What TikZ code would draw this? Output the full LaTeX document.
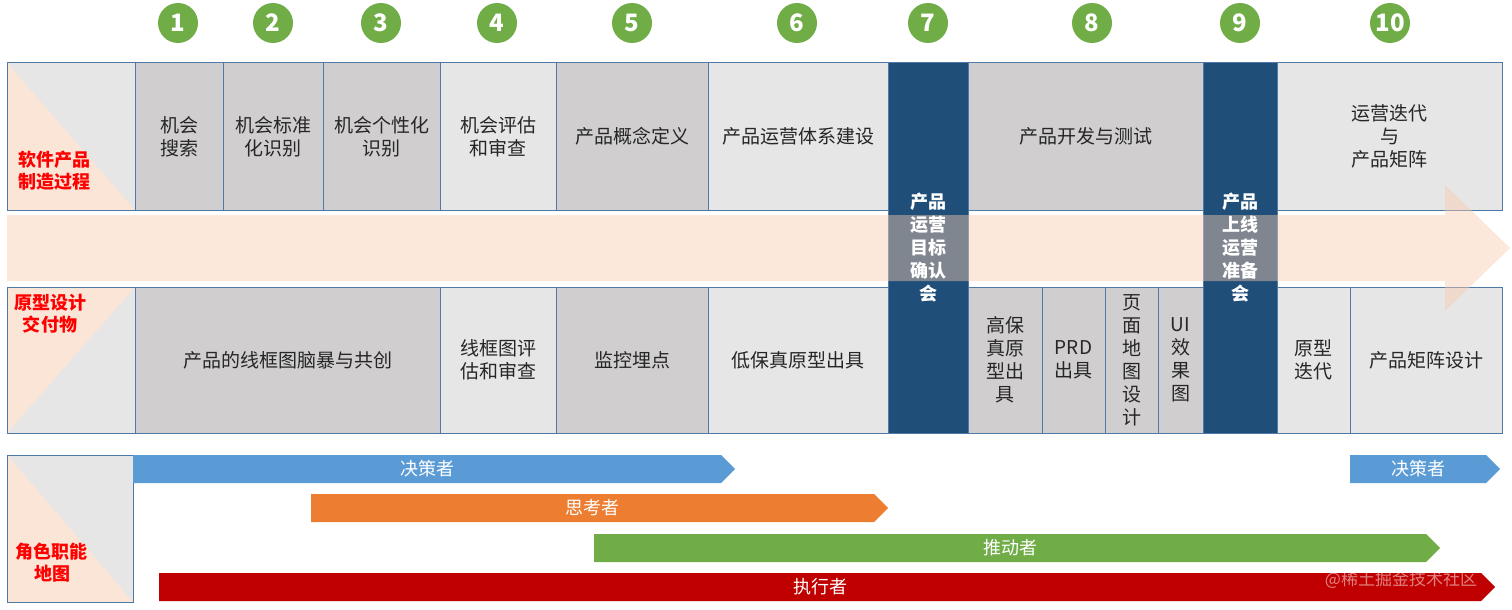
\documentclass[tikz,border=0pt]{standalone}
\usepackage{fontspec}
\setmainfont{Noto Sans CJK SC}
\usepackage{tikz}
\usetikzlibrary{positioning, shapes.symbols}
\tikzset{every node/.style={font=\fontsize{19}{23}\selectfont}}
\definecolor{cellgray}{HTML}{D0CECE}
\definecolor{celllight}{HTML}{E7E6E6}
\definecolor{frameblue}{HTML}{4F7AA8}
\definecolor{navy}{HTML}{1F4E79}
\definecolor{peach}{HTML}{F8CBAD}
\definecolor{peachsoft}{HTML}{FBE5D6}
\definecolor{stepgreen}{HTML}{70AD47}
\definecolor{roleblue}{HTML}{5B9BD5}
\definecolor{roleorange}{HTML}{ED7D31}
\definecolor{rolegreen}{HTML}{70AD47}
\definecolor{rolered}{HTML}{C00000}
\definecolor{labelred}{HTML}{FF0000}

\begin{document}
\begin{tikzpicture}[x=1pt, y=-1pt,
    cellbox/.style={draw=frameblue, line width=1pt, align=center, inner sep=0pt, text=black!85},
    stepdot/.style={circle, fill=stepgreen, minimum size=40pt, inner sep=0pt, text=white, font=\fontsize{24}{24}\selectfont\bfseries},
    gatebox/.style={fill=navy, draw=frameblue, line width=1pt, inner sep=0pt},
    gatetext/.style={text=white, align=center, font=\fontsize{18}{23}\selectfont\bfseries},
    sidecell/.style={draw=frameblue, line width=1pt, fill=celllight, inner sep=0pt},
    sidelabel/.style={text=labelred, align=center, font=\fontsize{18}{22}\selectfont\bfseries},
    rolebar/.style={signal, signal to=east, signal pointer angle=90, minimum height=28pt, inner sep=0pt, text=white, font=\fontsize{18}{18}\selectfont}]
  \useasboundingbox (0,0) rectangle (1512,610);

  % step numbers
  \foreach \x [count=\n] in {178,273,381,497,632,797,928,1092,1240,1390}
    \node[stepdot] (n\n) at (\x,23) {\n};

  % manufacturing steps (upper row)
  \foreach \xa/\xb/\fc/\txt [count=\i] in {
      135/223/cellgray/{机会\\搜索},
      223/323/cellgray/{机会标准\\化识别},
      323/440/cellgray/{机会个性化\\识别},
      440/556/celllight/{机会评估\\和审查},
      556/708/cellgray/{产品概念定义},
      708/888/celllight/{产品运营体系建设},
      968/1203/cellgray/{产品开发与测试},
      1277/1502/celllight/{运营迭代\\与\\产品矩阵}}
    \node[cellbox, fill=\fc, minimum width={\xb-\xa}, minimum height=147] (up\i) at ({(\xa+\xb)/2},136.5) {\txt};

  % deliverables (lower row)
  \foreach \xa/\xb/\fc/\txt [count=\i] in {
      135/440/cellgray/{产品的线框图脑暴与共创},
      440/556/celllight/{线框图评\\估和审查},
      556/708/cellgray/{监控埋点},
      708/888/celllight/{低保真原型出具},
      968/1042/cellgray/{高保\\真原\\型出\\具},
      1042/1105/cellgray/{PRD\\出具},
      1105/1158/cellgray/{页\\面\\地\\图\\设\\计},
      1158/1203/cellgray/{UI\\效\\果\\图},
      1277/1350/celllight/{原型\\迭代},
      1350/1502/celllight/{产品矩阵设计}}
    \node[cellbox, fill=\fc, minimum width={\xb-\xa}, minimum height=146] (low\i) at ({(\xa+\xb)/2},360) {\txt};

  % review meetings
  \node[gatebox, minimum width=80, minimum height=370] (gate7) at (928,248) {};
  \node[gatebox, minimum width=74, minimum height=370] (gate9) at (1240,248) {};

  % process arrow
  \fill[peach, opacity=0.45] (7,215) -- (1445,215) -- (1445,185) -- (1510,248)
    -- (1445,311) -- (1445,281) -- (7,281) -- cycle;

  \node[gatetext] (gate7txt) at (gate7) {产品\\运营\\目标\\确认\\会};
  \node[gatetext] (gate9txt) at (gate9) {产品\\上线\\运营\\准备\\会};

  % row headers
  \node[sidecell, minimum width=128, minimum height=147,
    path picture={\fill[peachsoft] (path picture bounding box.north west) -- (path picture bounding box.south west) -- (path picture bounding box.south east) -- cycle;}] (side1) at (71,136.5) {};
  \node[sidecell, minimum width=128, minimum height=146,
    path picture={\fill[peachsoft] (path picture bounding box.north west) -- (path picture bounding box.north east) -- (path picture bounding box.south west) -- cycle;}] (side2) at (71,360) {};
  \node[sidecell, minimum width=126, minimum height=147,
    path picture={\fill[peachsoft] (path picture bounding box.north west) -- (path picture bounding box.south west) -- (path picture bounding box.south east) -- cycle;}] (side3) at (70,528.5) {};
  \node[sidelabel] (side1txt) at (54,171) {软件产品\\制造过程};
  \node[sidelabel] (side2txt) at (50,314) {原型设计\\交付物};
  \node[sidelabel] (side3txt) at (52,563) {角色职能\\地图};

  % role bars
  \node[rolebar, fill=roleblue, minimum width=602] (decide1) at (427,469) {决策者};
  \node[rolebar, fill=roleorange, minimum width=577] (think) at (592.5,508) {思考者};
  \node[rolebar, fill=rolegreen, minimum width=846] (push) at (1010,548) {推动者};
  \node[rolebar, fill=rolered, minimum width=1336] (execute) at (820,587) {执行者};
  \node[rolebar, fill=roleblue, minimum width=150] (decide2) at (1418,469) {决策者};

  \node[text=white, opacity=0.5, font=\fontsize{17}{17}\selectfont] (mark) at (1401,580) {@稀土掘金技术社区};
\end{tikzpicture}
\end{document}
